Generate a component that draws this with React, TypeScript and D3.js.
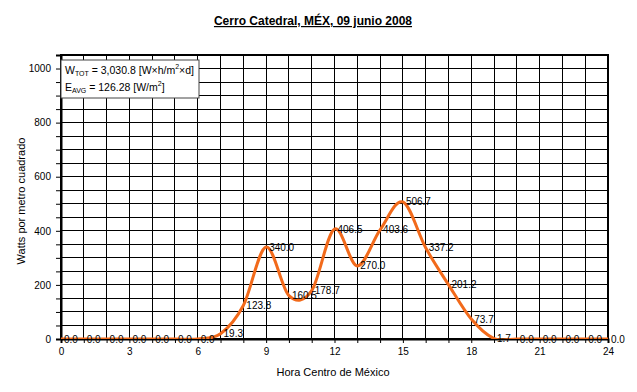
import { useEffect, useRef } from "react";
import * as d3 from "d3";

const hours = [0, 1, 2, 3, 4, 5, 6, 7, 8, 9, 10, 11, 12, 13, 14, 15, 16, 17, 18, 19, 20, 21, 22, 23, 24];
const watts = [
  0, 0, 0, 0, 0, 0, 0, 19.3, 123.8, 340.0, 160.5, 178.7, 406.5, 270.0, 403.6, 506.7, 337.2, 201.2,
  73.7, 1.7, 0, 0, 0, 0, 0,
];
const xTickLabels = [0, 3, 6, 9, 12, 15, 18, 21, 24];
const yTickLabels = [0, 200, 400, 600, 800, 1000];

const title = "Cerro Catedral, MÉX, 09 junio 2008";
const xTitle = "Hora Centro de México";
const yTitle = "Watts por metro cuadrado";
const wTot = "3,030.8";
const eAvg = "126.28";

const FONT = "'Liberation Sans', Arial, sans-serif";

function App() {
  const ref = useRef<SVGSVGElement>(null);
  const width = 637;
  const height = 392;

  useEffect(() => {
    const margin = { left: 61, top: 55, right: 29, bottom: 53 };
    const content = {
      width: width - margin.left - margin.right,
      height: height - margin.top - margin.bottom,
    };

    const el = d3.select(ref.current);
    el.selectAll("*").remove();

    const chart = el
      .append("g")
      .attr("transform", `translate(${margin.left}, ${margin.top})`);

    const x = d3.scaleLinear().domain([0, 24]).range([0, content.width]);
    const y = d3.scaleLinear().domain([0, 1050]).range([content.height, 0]);

    // grid
    chart
      .append("g")
      .selectAll("line")
      .data(d3.range(1, 24))
      .enter()
      .append("line")
      .attr("x1", (d) => x(d))
      .attr("x2", (d) => x(d))
      .attr("y1", 0)
      .attr("y2", content.height)
      .attr("stroke", "#000")
      .attr("stroke-width", 1)
      .attr("shape-rendering", "crispEdges");

    chart
      .append("g")
      .selectAll("line")
      .data(d3.range(50, 1050, 50))
      .enter()
      .append("line")
      .attr("x1", 0)
      .attr("x2", content.width)
      .attr("y1", (d) => y(d))
      .attr("y2", (d) => y(d))
      .attr("stroke", "#000")
      .attr("stroke-width", 1)
      .attr("shape-rendering", "crispEdges");

    // frame
    chart
      .append("rect")
      .attr("x", 0)
      .attr("y", 0)
      .attr("width", content.width)
      .attr("height", content.height)
      .attr("fill", "none")
      .attr("stroke", "#000")
      .attr("stroke-width", 2);

    // y-axis
    const yAxis = chart.append("g").call(
      d3
        .axisLeft(y)
        .tickValues(d3.range(0, 1050, 50))
        .tickSize(5)
        .tickFormat((d) => (yTickLabels.includes(+d) ? String(d) : ""))
    );
    yAxis.select(".domain").attr("stroke-width", 2);
    yAxis.selectAll("text").attr("font-family", FONT).attr("font-size", 10).attr("fill", "#000").attr("x", -10);

    // x-axis
    const xAxis = chart
      .append("g")
      .attr("transform", `translate(0, ${content.height})`)
      .call(
        d3
          .axisBottom(x)
          .tickValues(hours)
          .tickSize(4)
          .tickFormat((d) => (xTickLabels.includes(+d) ? String(d) : ""))
      );
    xAxis.select(".domain").attr("stroke-width", 2);
    xAxis.selectAll("text").attr("font-family", FONT).attr("font-size", 10).attr("fill", "#000").attr("y", 9);

    // line
    el.append("defs")
      .append("clipPath")
      .attr("id", "plot-clip")
      .append("rect")
      .attr("x", 0)
      .attr("y", 0)
      .attr("width", content.width)
      .attr("height", content.height);

    const line = d3
      .line<number>()
      .x((_, i) => x(hours[i]))
      .y((d) => y(d))
      .curve(d3.curveCardinal);

    chart
      .append("path")
      .datum(watts)
      .attr("d", line)
      .attr("fill", "none")
      .attr("stroke", "#f26a1b")
      .attr("stroke-width", 3)
      .attr("clip-path", "url(#plot-clip)");

    // data labels
    chart
      .append("g")
      .selectAll("text")
      .data(watts)
      .enter()
      .append("text")
      .attr("x", (_, i) => x(hours[i]) + 3)
      .attr("y", (d) => y(d))
      .attr("dy", "0.35em")
      .attr("font-family", FONT)
      .attr("font-size", 10)
      .attr("fill", "#000")
      .text((d) => d.toFixed(1));

    // legend box
    const box = chart.append("g").attr("transform", "translate(0, 5)");
    box
      .append("rect")
      .attr("x", 0)
      .attr("y", 0)
      .attr("width", 138)
      .attr("height", 38)
      .attr("fill", "#fff")
      .attr("stroke", "#444")
      .attr("stroke-width", 1);

    const t1 = box
      .append("text")
      .attr("x", 4)
      .attr("y", 14)
      .attr("font-family", FONT)
      .attr("font-size", 10.5)
      .attr("fill", "#000");
    t1.append("tspan").text("W");
    t1.append("tspan").attr("font-size", 7).attr("dy", 2).text("TOT");
    t1.append("tspan").attr("dy", -2).text(` = ${wTot} [W×h/m`);
    t1.append("tspan").attr("font-size", 7).attr("dy", -5).text("2");
    t1.append("tspan").attr("dy", 5).text("×d]");

    const t2 = box
      .append("text")
      .attr("x", 4)
      .attr("y", 31)
      .attr("font-family", FONT)
      .attr("font-size", 10.5)
      .attr("fill", "#000");
    t2.append("tspan").text("E");
    t2.append("tspan").attr("font-size", 7).attr("dy", 2).text("AVG");
    t2.append("tspan").attr("dy", -2).text(` = ${eAvg} [W/m`);
    t2.append("tspan").attr("font-size", 7).attr("dy", -5).text("2");
    t2.append("tspan").attr("dy", 5).text("]");

    // titles
    el.append("text")
      .attr("x", 313)
      .attr("y", 25)
      .attr("text-anchor", "middle")
      .attr("font-family", FONT)
      .attr("font-size", 12)
      .attr("font-weight", "bold")
      .attr("text-decoration", "underline")
      .attr("fill", "#000")
      .text(title);

    el.append("text")
      .attr("x", 333)
      .attr("y", 376)
      .attr("text-anchor", "middle")
      .attr("font-family", FONT)
      .attr("font-size", 11)
      .attr("fill", "#000")
      .text(xTitle);

    el.append("text")
      .attr("transform", `translate(25, 201) rotate(-90)`)
      .attr("text-anchor", "middle")
      .attr("font-family", FONT)
      .attr("font-size", 11)
      .attr("fill", "#000")
      .text(yTitle);
  }, []);

  return (
    <svg
      ref={ref}
      width={width}
      height={height}
      style={{ position: "absolute", left: 0, top: 0, background: "#fff" }}
    />
  );
}

export default App;
